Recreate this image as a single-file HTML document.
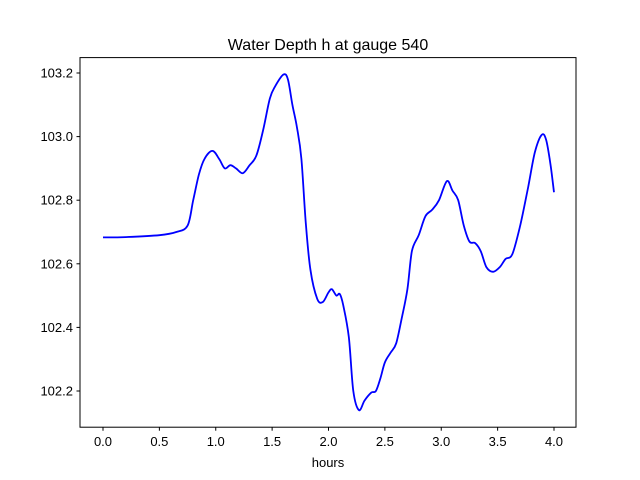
<!DOCTYPE html>
<html><head><meta charset="utf-8">
<style>
body{margin:0;background:#fff;}
svg{display:block;font-family:"Liberation Sans","DejaVu Sans",sans-serif;}
</style></head>
<body>
<svg id="chart" width="640" height="480" viewBox="0 0 640 480" xmlns="http://www.w3.org/2000/svg">
<rect width="640" height="480" fill="#fff"/>
<text x="328" y="50" text-anchor="middle" font-size="16">Water Depth h at gauge 540</text>
<rect x="80" y="57.6" width="496" height="369.6" fill="none" stroke="#000" stroke-width="1"/>
<g id="xticks"></g>
<g id="yticks"></g>
<text x="328" y="467" text-anchor="middle" font-size="13">hours</text>
<path id="line" fill="none" stroke="#0000ff" stroke-width="1.8" stroke-linejoin="round"/>
</svg>
<script>
const hours=[0,0.2,0.5,0.65,0.75,0.8,0.85,0.9,0.97,1.03,1.08,1.13,1.18,1.24,1.3,1.36,1.42,1.48,1.53,1.6,1.64,1.68,1.72,1.76,1.8,1.84,1.9,1.95,2.0,2.03,2.07,2.1,2.13,2.18,2.22,2.27,2.32,2.38,2.42,2.46,2.5,2.55,2.6,2.65,2.7,2.74,2.8,2.86,2.92,2.98,3.05,3.1,3.15,3.2,3.25,3.3,3.35,3.4,3.46,3.52,3.57,3.63,3.7,3.77,3.83,3.89,3.93,3.97,4.0];
const depth=[102.683,102.684,102.69,102.70,102.72,102.80,102.88,102.93,102.955,102.93,102.90,102.91,102.90,102.885,102.91,102.94,103.02,103.12,103.16,103.195,103.18,103.10,103.03,102.93,102.72,102.58,102.49,102.48,102.51,102.52,102.50,102.505,102.47,102.37,102.20,102.14,102.17,102.195,102.20,102.24,102.29,102.32,102.35,102.43,102.52,102.64,102.69,102.75,102.77,102.80,102.86,102.83,102.80,102.72,102.67,102.665,102.64,102.59,102.575,102.59,102.615,102.63,102.72,102.84,102.95,103.005,102.99,102.91,102.825];
const xTicks=[0,0.5,1,1.5,2,2.5,3,3.5,4];
const xTickLabels=["0.0","0.5","1.0","1.5","2.0","2.5","3.0","3.5","4.0"];
const yTicks=[102.2,102.4,102.6,102.8,103.0,103.2];
const yTickLabels=["102.2","102.4","102.6","102.8","103.0","103.2"];
const NS="http://www.w3.org/2000/svg";
const X=v=>103+v*112.75;
const Y=v=>73+(103.2-v)*318;
const xg=document.getElementById('xticks'), yg=document.getElementById('yticks');
xTicks.forEach((t,i)=>{
  const l=document.createElementNS(NS,'line');
  
  
  l.setAttribute('x1',X(t));l.setAttribute('x2',X(t));l.setAttribute('y1',427.2);l.setAttribute('y2',430.7);l.setAttribute('stroke','#000');
  xg.appendChild(l);
  const tx=document.createElementNS(NS,'text');
  
  
  tx.setAttribute('x',X(t));tx.setAttribute('y',446);tx.setAttribute('text-anchor','middle');tx.setAttribute('font-size','13');
  tx.textContent=xTickLabels[i];xg.appendChild(tx);
});
yTicks.forEach((t,i)=>{
  const l=document.createElementNS(NS,'line');
  
  
  l.setAttribute('x1',76.5);l.setAttribute('x2',80);l.setAttribute('y1',Y(t));l.setAttribute('y2',Y(t));l.setAttribute('stroke','#000');
  yg.appendChild(l);
  const tx=document.createElementNS(NS,'text');
  
  
  tx.setAttribute('x',73);tx.setAttribute('y',Y(t)+4.5);tx.setAttribute('text-anchor','end');tx.setAttribute('font-size','13');
  tx.textContent=yTickLabels[i];yg.appendChild(tx);
});
const pts=hours.map((h,i)=>[X(h),Y(depth[i])]);
let d='M'+pts[0][0].toFixed(1)+','+pts[0][1].toFixed(1);
for(let i=0;i<pts.length-1;i++){
  const p0=pts[Math.max(0,i-1)],p1=pts[i],p2=pts[i+1],p3=pts[Math.min(pts.length-1,i+2)];
  const c1=[p1[0]+(p2[0]-p0[0])/6,p1[1]+(p2[1]-p0[1])/6];
  const c2=[p2[0]-(p3[0]-p1[0])/6,p2[1]-(p3[1]-p1[1])/6];
  d+=' C'+c1[0].toFixed(1)+','+c1[1].toFixed(1)+' '+c2[0].toFixed(1)+','+c2[1].toFixed(1)+' '+p2[0].toFixed(1)+','+p2[1].toFixed(1);
}
document.getElementById('line').setAttribute('d',d);
</script>
</body></html>
